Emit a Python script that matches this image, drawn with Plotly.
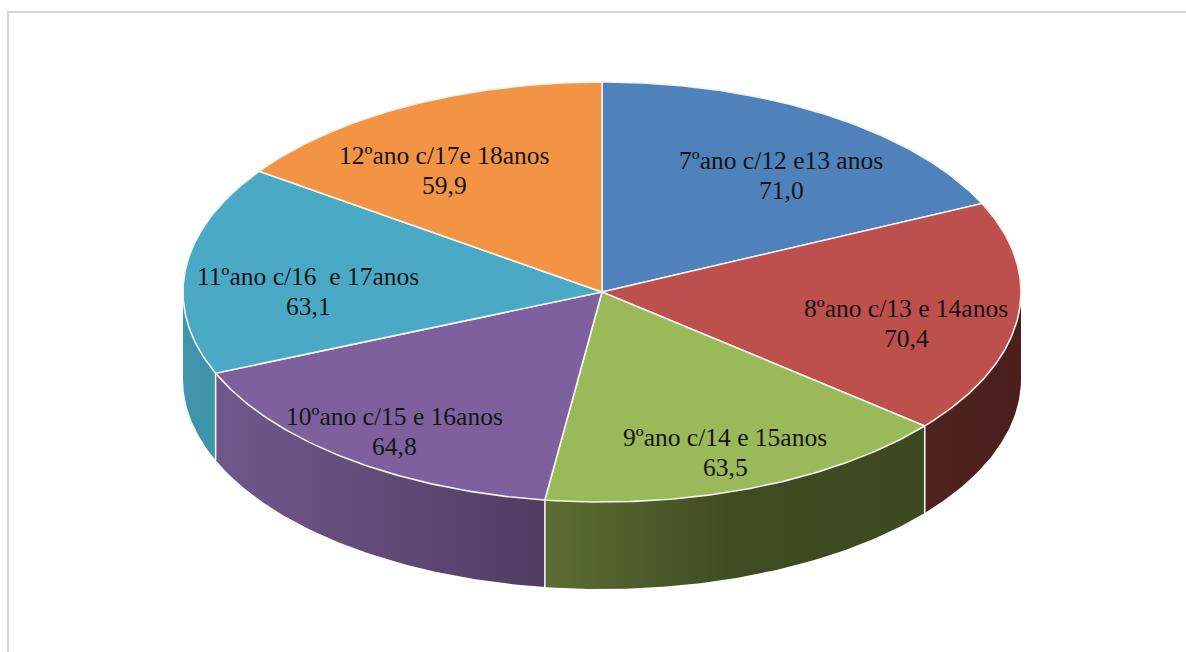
import numpy as np
import plotly.graph_objects as go

categories = ["7ºano c/12 e13 anos", "8ºano c/13 e 14anos", "9ºano c/14 e 15anos",
              "10ºano c/15 e 16anos", "11ºano c/16\u00a0 e 17anos", "12ºano c/17e 18anos"]
values = [71.0, 70.4, 63.5, 64.8, 63.1, 59.9]
value_labels = ["71,0", "70,4", "63,5", "64,8", "63,1", "59,9"]
top_colors = ["#4f81ba", "#bd4f4c", "#9aba59", "#7f609e", "#4aaac5", "#f39444"]
wall_scales = [
    [[0, "#4f81ba"], [1, "#4f81ba"]],
    [[0, "#4e2320"], [1, "#4a1e1c"]],
    [[0, "#5c6d33"], [0.5, "#3f4c22"], [1, "#3d4a21"]],
    [[0, "#71588c"], [1, "#513d62"]],
    [[0, "#4095ae"], [1, "#3f93ab"]],
    [[0, "#f39444"], [1, "#f39444"]],
]
label_x = [781, 906, 725, 394, 308, 444]
label_y = [175, 323, 452, 431, 291, 170]

CX, CY, RX, RY, DEPTH = 602, 292, 419, 210, 87
WIDTH, HEIGHT = 1186, 652
LINE_GAP = 15


def ex(t):
    return CX + RX * np.sin(t)


def ey(t):
    return CY - RY * np.cos(t)


edges = np.concatenate([[0], np.cumsum(values)]) / sum(values) * 2 * np.pi
fig = go.Figure()

# side walls (only the front half of the disc is visible)
for i in range(len(values)):
    a, b = max(edges[i], np.pi / 2), min(edges[i + 1], 3 * np.pi / 2)
    if b <= a:
        continue
    t = np.linspace(a, b, 80)
    xs = np.concatenate([ex(t), ex(t[::-1])])
    ys = np.concatenate([ey(t), ey(t[::-1]) + DEPTH])
    fig.add_trace(go.Scatter(
        x=xs, y=ys, mode="lines", line=dict(width=0), fill="toself",
        fillgradient=dict(type="horizontal", colorscale=wall_scales[i]),
        hoverinfo="skip", showlegend=False))

# vertical separators between walls
for e in edges[1:-1]:
    if np.pi / 2 < e < 3 * np.pi / 2:
        fig.add_trace(go.Scatter(
            x=[ex(e), ex(e)], y=[ey(e), ey(e) + DEPTH], mode="lines",
            line=dict(color="#f4f4f0", width=1.6), hoverinfo="skip", showlegend=False))

# top faces
for i in range(len(values)):
    t = np.linspace(edges[i], edges[i + 1], 120)
    fig.add_trace(go.Scatter(
        x=np.concatenate([[CX], ex(t), [CX]]),
        y=np.concatenate([[CY], ey(t), [CY]]),
        mode="lines", fill="toself", fillcolor=top_colors[i],
        line=dict(color="#f2f2ee", width=1.6),
        name=categories[i], hoverinfo="name", showlegend=False))

# chart frame, cut off by the picture on the right and bottom
fig.add_trace(go.Scatter(
    x=[8, 8, WIDTH], y=[HEIGHT, 12, 12], mode="lines",
    line=dict(color="#d6d6d6", width=2), hoverinfo="skip", showlegend=False))

font = dict(family="Liberation Serif", size=25.5, color="#151515")
for c, v, x, y in zip(categories, value_labels, label_x, label_y):
    fig.add_annotation(x=x, y=y - LINE_GAP, xref="x", yref="y", text=c,
                       showarrow=False, font=font)
    fig.add_annotation(x=x, y=y + LINE_GAP, xref="x", yref="y", text=v,
                       showarrow=False, font=font)

fig.update_layout(
    width=WIDTH, height=HEIGHT, margin=dict(l=0, r=0, t=0, b=0),
    paper_bgcolor="#ffffff", plot_bgcolor="#ffffff", showlegend=False,
    xaxis=dict(range=[0, WIDTH], visible=False, fixedrange=True),
    yaxis=dict(range=[HEIGHT, 0], visible=False, fixedrange=True),
)
fig.write_html("out.html", post_script="document.body.style.margin='0';",
               config={"displayModeBar": False})
